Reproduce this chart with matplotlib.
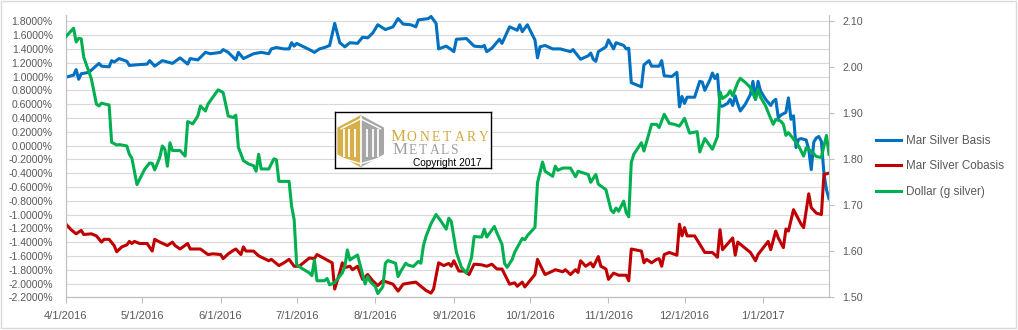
import numpy as np
import pandas as pd
import matplotlib
matplotlib.use("Agg")
import matplotlib.pyplot as plt
import matplotlib.dates as mdates
from matplotlib.patches import Polygon, Rectangle
from matplotlib.ticker import FuncFormatter
from matplotlib.lines import Line2D

# Mar silver basis (%)
basis = [
    ("2016-04-01", 0.99), ("2016-04-04", 1.02), ("2016-04-05", 1.10), ("2016-04-06", 0.96),
    ("2016-04-07", 1.04), ("2016-04-10", 1.06), ("2016-04-14", 1.19), ("2016-04-15", 1.15),
    ("2016-04-18", 1.14), ("2016-04-19", 1.23), ("2016-04-20", 1.21), ("2016-04-22", 1.26),
    ("2016-04-25", 1.22), ("2016-04-26", 1.16), ("2016-04-29", 1.17), ("2016-05-03", 1.18),
    ("2016-05-04", 1.23), ("2016-05-06", 1.15), ("2016-05-09", 1.23), ("2016-05-11", 1.21),
    ("2016-05-13", 1.19), ("2016-05-16", 1.27), ("2016-05-19", 1.18), ("2016-05-20", 1.26),
    ("2016-05-23", 1.24), ("2016-05-26", 1.35), ("2016-05-28", 1.33), ("2016-06-01", 1.35),
    ("2016-06-02", 1.39), ("2016-06-04", 1.35), ("2016-06-07", 1.24), ("2016-06-08", 1.35),
    ("2016-06-10", 1.26), ("2016-06-14", 1.33), ("2016-06-17", 1.35), ("2016-06-20", 1.33),
    ("2016-06-21", 1.40), ("2016-06-23", 1.42), ("2016-06-26", 1.40), ("2016-06-28", 1.40),
    ("2016-06-29", 1.49), ("2016-06-30", 1.44), ("2016-07-01", 1.48), ("2016-07-06", 1.39),
    ("2016-07-08", 1.35), ("2016-07-10", 1.40), ("2016-07-12", 1.42), ("2016-07-14", 1.45),
    ("2016-07-16", 1.77), ("2016-07-18", 1.49), ("2016-07-20", 1.43), ("2016-07-22", 1.49),
    ("2016-07-25", 1.48), ("2016-07-27", 1.57), ("2016-07-29", 1.56), ("2016-07-31", 1.63),
    ("2016-08-02", 1.75), ("2016-08-05", 1.68), ("2016-08-08", 1.72), ("2016-08-10", 1.84),
    ("2016-08-12", 1.76), ("2016-08-15", 1.75), ("2016-08-17", 1.72), ("2016-08-18", 1.82),
    ("2016-08-22", 1.84), ("2016-08-23", 1.87), ("2016-08-25", 1.77), ("2016-08-26", 1.40),
    ("2016-08-29", 1.44), ("2016-08-31", 1.39), ("2016-09-01", 1.36), ("2016-09-02", 1.54),
    ("2016-09-06", 1.55), ("2016-09-09", 1.44), ("2016-09-12", 1.43), ("2016-09-13", 1.45),
    ("2016-09-14", 1.36), ("2016-09-16", 1.41), ("2016-09-19", 1.54), ("2016-09-20", 1.48),
    ("2016-09-23", 1.72), ("2016-09-26", 1.67), ("2016-09-27", 1.75), ("2016-09-28", 1.65),
    ("2016-09-30", 1.75), ("2016-10-03", 1.53), ("2016-10-04", 1.27), ("2016-10-05", 1.43),
    ("2016-10-07", 1.45), ("2016-10-10", 1.40), ("2016-10-13", 1.40), ("2016-10-17", 1.36),
    ("2016-10-18", 1.39), ("2016-10-21", 1.25), ("2016-10-24", 1.30), ("2016-10-25", 1.34),
    ("2016-10-26", 1.25), ("2016-10-27", 1.22), ("2016-10-28", 1.36), ("2016-10-31", 1.43),
    ("2016-11-01", 1.53), ("2016-11-03", 1.40), ("2016-11-04", 1.49), ("2016-11-07", 1.45),
    ("2016-11-08", 1.40), ("2016-11-09", 1.41), ("2016-11-10", 0.91), ("2016-11-14", 0.85),
    ("2016-11-15", 1.17), ("2016-11-17", 1.23), ("2016-11-18", 1.15), ("2016-11-21", 1.15),
    ("2016-11-22", 1.23), ("2016-11-23", 1.01), ("2016-11-26", 1.00), ("2016-11-28", 1.06),
    ("2016-11-29", 0.56), ("2016-11-30", 0.71), ("2016-12-01", 0.61), ("2016-12-02", 0.70),
    ("2016-12-05", 0.70), ("2016-12-07", 0.93), ("2016-12-08", 0.92), ("2016-12-09", 0.80),
    ("2016-12-11", 0.95), ("2016-12-12", 1.05), ("2016-12-13", 0.97), ("2016-12-14", 1.03),
    ("2016-12-15", 0.57), ("2016-12-16", 0.57), ("2016-12-18", 0.61), ("2016-12-19", 0.67),
    ("2016-12-20", 0.58), ("2016-12-21", 0.72), ("2016-12-22", 0.60), ("2016-12-23", 0.50),
    ("2016-12-25", 0.60), ("2016-12-27", 0.74), ("2016-12-28", 0.93), ("2016-12-29", 0.67),
    ("2016-12-30", 0.93), ("2016-12-31", 0.79), ("2017-01-02", 0.67), ("2017-01-04", 0.58),
    ("2017-01-05", 0.64), ("2017-01-06", 0.67), ("2017-01-07", 0.40), ("2017-01-08", 0.44),
    ("2017-01-10", 0.48), ("2017-01-11", 0.69), ("2017-01-12", 0.38), ("2017-01-13", 0.43),
    ("2017-01-14", -0.03), ("2017-01-15", 0.09), ("2017-01-16", 0.10), ("2017-01-18", 0.08),
    ("2017-01-19", -0.06), ("2017-01-20", -0.35), ("2017-01-21", 0.05), ("2017-01-22", 0.11),
    ("2017-01-23", 0.13), ("2017-01-24", 0.06), ("2017-01-25", -0.40), ("2017-01-26", -0.64),
    ("2017-01-27", -0.77),
]

# Mar silver cobasis (%)
cobasis = [
    ("2016-04-01", -1.14), ("2016-04-03", -1.22), ("2016-04-05", -1.28), ("2016-04-07", -1.23),
    ("2016-04-08", -1.29), ("2016-04-11", -1.28), ("2016-04-13", -1.31), ("2016-04-15", -1.40),
    ("2016-04-16", -1.36), ("2016-04-18", -1.36), ("2016-04-20", -1.45), ("2016-04-21", -1.54),
    ("2016-04-23", -1.47), ("2016-04-25", -1.44), ("2016-04-26", -1.39), ("2016-04-27", -1.42),
    ("2016-04-28", -1.39), ("2016-04-30", -1.42), ("2016-05-03", -1.42), ("2016-05-05", -1.53),
    ("2016-05-06", -1.36), ("2016-05-08", -1.40), ("2016-05-11", -1.45), ("2016-05-13", -1.40),
    ("2016-05-14", -1.45), ("2016-05-16", -1.50), ("2016-05-19", -1.42), ("2016-05-20", -1.50),
    ("2016-05-24", -1.50), ("2016-05-27", -1.58), ("2016-05-29", -1.57), ("2016-06-01", -1.58),
    ("2016-06-02", -1.64), ("2016-06-04", -1.57), ("2016-06-06", -1.52), ("2016-06-07", -1.50),
    ("2016-06-09", -1.58), ("2016-06-10", -1.47), ("2016-06-11", -1.53), ("2016-06-14", -1.53),
    ("2016-06-16", -1.60), ("2016-06-20", -1.67), ("2016-06-21", -1.65), ("2016-06-24", -1.74),
    ("2016-06-26", -1.70), ("2016-06-28", -1.65), ("2016-06-30", -1.75), ("2016-07-02", -1.75),
    ("2016-07-06", -1.63), ("2016-07-08", -1.64), ("2016-07-09", -1.58), ("2016-07-13", -1.66),
    ("2016-07-15", -1.70), ("2016-07-16", -2.08), ("2016-07-18", -1.84), ("2016-07-19", -1.70),
    ("2016-07-20", -1.77), ("2016-07-22", -1.75), ("2016-07-23", -1.80), ("2016-07-25", -1.75),
    ("2016-07-27", -1.94), ("2016-07-29", -1.87), ("2016-07-31", -1.96), ("2016-08-02", -2.03),
    ("2016-08-04", -1.96), ("2016-08-08", -2.01), ("2016-08-10", -2.11), ("2016-08-12", -2.01),
    ("2016-08-15", -1.99), ("2016-08-17", -1.98), ("2016-08-19", -2.04), ("2016-08-21", -2.10),
    ("2016-08-23", -2.14), ("2016-08-24", -2.08), ("2016-08-26", -1.70), ("2016-08-28", -1.74),
    ("2016-08-30", -1.71), ("2016-08-31", -1.75), ("2016-09-01", -1.67), ("2016-09-03", -1.82),
    ("2016-09-05", -1.82), ("2016-09-07", -1.87), ("2016-09-09", -1.72), ("2016-09-12", -1.73),
    ("2016-09-14", -1.75), ("2016-09-16", -1.72), ("2016-09-18", -1.79), ("2016-09-20", -1.79),
    ("2016-09-23", -2.01), ("2016-09-25", -1.99), ("2016-09-26", -2.04), ("2016-09-28", -1.98),
    ("2016-09-29", -2.05), ("2016-10-01", -1.96), ("2016-10-03", -1.87), ("2016-10-04", -1.65),
    ("2016-10-06", -1.80), ("2016-10-07", -1.87), ("2016-10-10", -1.82), ("2016-10-11", -1.80),
    ("2016-10-14", -1.83), ("2016-10-15", -1.80), ("2016-10-17", -1.87), ("2016-10-19", -1.80),
    ("2016-10-20", -1.84), ("2016-10-21", -1.67), ("2016-10-23", -1.75), ("2016-10-25", -1.70),
    ("2016-10-26", -1.76), ("2016-10-28", -1.61), ("2016-10-29", -1.75), ("2016-10-31", -1.79),
    ("2016-11-01", -1.94), ("2016-11-03", -1.85), ("2016-11-05", -1.88), ("2016-11-08", -1.88),
    ("2016-11-09", -1.96), ("2016-11-10", -1.50), ("2016-11-14", -1.53), ("2016-11-15", -1.70),
    ("2016-11-16", -1.65), ("2016-11-18", -1.70), ("2016-11-20", -1.65), ("2016-11-21", -1.64),
    ("2016-11-22", -1.75), ("2016-11-23", -1.58), ("2016-11-25", -1.55), ("2016-11-28", -1.59),
    ("2016-11-29", -1.14), ("2016-11-30", -1.31), ("2016-12-01", -1.19), ("2016-12-02", -1.31),
    ("2016-12-05", -1.31), ("2016-12-09", -1.55), ("2016-12-12", -1.55), ("2016-12-14", -1.62),
    ("2016-12-15", -1.22), ("2016-12-16", -1.51), ("2016-12-20", -1.34), ("2016-12-21", -1.59),
    ("2016-12-22", -1.40), ("2016-12-27", -1.55), ("2016-12-29", -1.67), ("2016-12-30", -1.58),
    ("2017-01-03", -1.39), ("2017-01-04", -1.51), ("2017-01-06", -1.24), ("2017-01-07", -1.34),
    ("2017-01-09", -1.48), ("2017-01-10", -1.21), ("2017-01-11", -1.24), ("2017-01-13", -0.93),
    ("2017-01-16", -1.14), ("2017-01-17", -1.19), ("2017-01-19", -0.70), ("2017-01-20", -0.90),
    ("2017-01-22", -0.98), ("2017-01-24", -1.00), ("2017-01-25", -0.42), ("2017-01-27", -0.40),
]

# Dollar priced in grams of silver (right axis)
dollar_g = [
    ("2016-04-01", 2.067), ("2016-04-04", 2.085), ("2016-04-05", 2.055), ("2016-04-06", 2.063),
    ("2016-04-07", 2.062), ("2016-04-08", 2.022), ("2016-04-11", 1.975), ("2016-04-13", 1.920),
    ("2016-04-14", 1.916), ("2016-04-15", 1.922), ("2016-04-18", 1.918), ("2016-04-19", 1.837),
    ("2016-04-21", 1.831), ("2016-04-22", 1.832), ("2016-04-25", 1.829), ("2016-04-26", 1.811),
    ("2016-04-27", 1.802), ("2016-04-29", 1.745), ("2016-04-30", 1.756), ("2016-05-02", 1.778),
    ("2016-05-04", 1.792), ("2016-05-05", 1.791), ("2016-05-06", 1.777), ("2016-05-08", 1.804),
    ("2016-05-09", 1.829), ("2016-05-10", 1.822), ("2016-05-11", 1.785), ("2016-05-12", 1.836),
    ("2016-05-13", 1.819), ("2016-05-16", 1.819), ("2016-05-18", 1.807), ("2016-05-19", 1.882),
    ("2016-05-21", 1.877), ("2016-05-23", 1.894), ("2016-05-24", 1.916), ("2016-05-26", 1.905),
    ("2016-05-27", 1.920), ("2016-05-31", 1.951), ("2016-06-02", 1.945), ("2016-06-04", 1.894),
    ("2016-06-06", 1.891), ("2016-06-07", 1.896), ("2016-06-08", 1.826), ("2016-06-10", 1.797),
    ("2016-06-12", 1.790), ("2016-06-14", 1.786), ("2016-06-15", 1.774), ("2016-06-16", 1.811),
    ("2016-06-17", 1.779), ("2016-06-20", 1.779), ("2016-06-22", 1.801), ("2016-06-23", 1.799),
    ("2016-06-24", 1.752), ("2016-06-28", 1.752), ("2016-06-29", 1.698), ("2016-06-30", 1.669),
    ("2016-07-01", 1.571), ("2016-07-03", 1.563), ("2016-07-06", 1.553), ("2016-07-07", 1.547),
    ("2016-07-08", 1.581), ("2016-07-09", 1.536), ("2016-07-12", 1.536), ("2016-07-13", 1.541),
    ("2016-07-14", 1.527), ("2016-07-16", 1.532), ("2016-07-19", 1.553), ("2016-07-20", 1.567),
    ("2016-07-21", 1.603), ("2016-07-22", 1.581), ("2016-07-23", 1.585), ("2016-07-25", 1.592),
    ("2016-07-28", 1.529), ("2016-07-29", 1.545), ("2016-07-30", 1.534), ("2016-08-01", 1.524),
    ("2016-08-02", 1.508), ("2016-08-04", 1.523), ("2016-08-05", 1.574), ("2016-08-06", 1.580),
    ("2016-08-09", 1.574), ("2016-08-10", 1.545), ("2016-08-11", 1.556), ("2016-08-13", 1.574),
    ("2016-08-14", 1.570), ("2016-08-16", 1.567), ("2016-08-18", 1.578), ("2016-08-19", 1.574),
    ("2016-08-20", 1.612), ("2016-08-21", 1.632), ("2016-08-23", 1.660), ("2016-08-25", 1.680),
    ("2016-08-27", 1.665), ("2016-08-29", 1.648), ("2016-08-30", 1.672), ("2016-08-31", 1.665),
    ("2016-09-02", 1.598), ("2016-09-04", 1.565), ("2016-09-06", 1.553), ("2016-09-08", 1.587),
    ("2016-09-09", 1.632), ("2016-09-12", 1.631), ("2016-09-13", 1.648), ("2016-09-14", 1.631),
    ("2016-09-17", 1.654), ("2016-09-18", 1.640), ("2016-09-20", 1.615), ("2016-09-21", 1.574),
    ("2016-09-22", 1.565), ("2016-09-24", 1.582), ("2016-09-25", 1.598), ("2016-09-27", 1.618),
    ("2016-09-28", 1.628), ("2016-09-29", 1.625), ("2016-09-30", 1.634), ("2016-10-03", 1.652),
    ("2016-10-04", 1.749), ("2016-10-06", 1.794), ("2016-10-07", 1.774), ("2016-10-10", 1.763),
    ("2016-10-11", 1.785), ("2016-10-12", 1.776), ("2016-10-14", 1.781), ("2016-10-17", 1.781),
    ("2016-10-19", 1.762), ("2016-10-20", 1.774), ("2016-10-24", 1.767), ("2016-10-25", 1.750),
    ("2016-10-27", 1.767), ("2016-10-28", 1.746), ("2016-10-31", 1.734), ("2016-11-02", 1.690),
    ("2016-11-03", 1.684), ("2016-11-04", 1.694), ("2016-11-05", 1.687), ("2016-11-07", 1.709),
    ("2016-11-08", 1.684), ("2016-11-09", 1.675), ("2016-11-10", 1.793), ("2016-11-11", 1.811),
    ("2016-11-14", 1.836), ("2016-11-15", 1.818), ("2016-11-18", 1.876), ("2016-11-20", 1.876),
    ("2016-11-21", 1.869), ("2016-11-23", 1.898), ("2016-11-25", 1.878), ("2016-11-27", 1.876),
    ("2016-11-29", 1.872), ("2016-12-01", 1.889), ("2016-12-03", 1.857), ("2016-12-06", 1.860),
    ("2016-12-07", 1.816), ("2016-12-09", 1.845), ("2016-12-12", 1.822), ("2016-12-14", 1.849),
    ("2016-12-15", 1.946), ("2016-12-16", 1.932), ("2016-12-18", 1.940), ("2016-12-19", 1.949),
    ("2016-12-20", 1.938), ("2016-12-22", 1.967), ("2016-12-23", 1.976), ("2016-12-25", 1.967),
    ("2016-12-27", 1.956), ("2016-12-29", 1.930), ("2016-12-30", 1.952), ("2016-12-31", 1.935),
    ("2017-01-02", 1.916), ("2017-01-03", 1.902), ("2017-01-05", 1.876), ("2017-01-06", 1.887),
    ("2017-01-08", 1.883), ("2017-01-09", 1.876), ("2017-01-10", 1.852), ("2017-01-11", 1.858),
    ("2017-01-13", 1.844), ("2017-01-15", 1.829), ("2017-01-17", 1.807), ("2017-01-18", 1.825),
    ("2017-01-20", 1.818), ("2017-01-22", 1.806), ("2017-01-24", 1.804), ("2017-01-25", 1.829),
    ("2017-01-26", 1.852), ("2017-01-27", 1.811),
]

labels = ["Mar Silver Basis", "Mar Silver Cobasis", "Dollar (g silver)"]
colors = ["#0070C0", "#C00000", "#00B050"]


def split(pairs):
    d, v = zip(*pairs)
    return pd.to_datetime(list(d)), np.array(v)


bx, by = split(basis)
cx, cy = split(cobasis)
gx, gy = split(dollar_g)

W, H = 1018, 330
fig = plt.figure(figsize=(W / 100, H / 100), dpi=100)
plt.rcParams["font.family"] = ["Liberation Sans", "DejaVu Sans"]

# plot area in pixels: x 66..829, y 15..297
ax = fig.add_axes([66 / W, 1 - 297.3 / H, (829 - 66) / W, (297.3 - 15) / H])
ax2 = ax.twinx()

lw = 2.2
ax.plot(bx, by, color=colors[0], lw=lw, solid_joinstyle="round", zorder=3)
ax.plot(cx, cy, color=colors[1], lw=lw, solid_joinstyle="round", zorder=3)
ax2.plot(gx, gy, color=colors[2], lw=lw, solid_joinstyle="round", zorder=3)

ax.set_xlim(bx[0], bx[-1])
ax.set_ylim(-2.2, 1.8 + 6.3 * 4.0 / 276)
ax.set_yticks(np.round(np.arange(-2.2, 1.81, 0.2), 1))
ax.yaxis.set_major_formatter(FuncFormatter(lambda v, p: f"{v:.4f}%"))
ax2.set_ylim(1.5, 2.1 + 6.3 * 0.6 / 276)
ax2.set_yticks(np.round(np.arange(1.5, 2.11, 0.1), 1))
ax2.yaxis.set_major_formatter(FuncFormatter(lambda v, p: f"{v:.2f}"))

ax.xaxis.set_major_locator(mdates.MonthLocator())
ax.xaxis.set_major_formatter(FuncFormatter(
    lambda v, p: (lambda d: f"{d.month}/{d.day}/{d.year}")(mdates.num2date(v))))

ax.grid(axis="y", color="#D9D9D9", lw=0.8)
ax.set_axisbelow(True)
for a in (ax, ax2):
    a.spines["top"].set_visible(False)
    for s in ("left", "right", "bottom"):
        a.spines[s].set_color("#BFBFBF")
        a.spines[s].set_linewidth(0.8)
ax.spines["right"].set_visible(False)

ax.tick_params(axis="y", length=0, pad=9.5, labelsize=7.5, labelcolor="#595959")
ax.tick_params(axis="x", length=4, width=0.8, color="#BFBFBF", pad=6, labelsize=8.0,
               labelcolor="#595959")
ax2.tick_params(axis="y", length=3.5, width=0.8, color="#BFBFBF", pad=6, labelsize=7.7,
                labelcolor="#595959")

# legend
handles = [Line2D([], [], color=c, lw=lw) for c in colors]
fig.legend(handles, labels, loc="center left", bbox_to_anchor=(865 / W, 0.4955),
           frameon=False, fontsize=8.4, handlelength=2.15, handletextpad=0.45,
           labelspacing=1.15, labelcolor="#595959")

# logo box
lax = fig.add_axes([335 / W, 1 - 168.3 / H, 156 / W, 56 / H], zorder=5)
lax.set_xlim(0, 156)
lax.set_ylim(56, 0)
lax.set_xticks([])
lax.set_yticks([])
lax.set_facecolor("white")
for s in lax.spines.values():
    s.set_color("black")
    s.set_linewidth(1.0)

gold, grey = "#D6AF48", "#A6A6A6"
cxh, top, bot, sh1, sh2, xl, xr = 25.7, 2.7, 55.0, 15.3, 42.0, 2.3, 49.0
lax.add_patch(Polygon([(cxh, top), (xl, sh1), (xl, sh2), (cxh, bot)], closed=True,
                      fc=gold, ec="none"))
lax.add_patch(Polygon([(cxh, top), (xr, sh1), (xr, sh2), (cxh, bot)], closed=True,
                      fc=grey, ec="none"))
for xs in (8.5, 14.0, 19.5, 32.0, 37.5, 43.0):
    lax.plot([xs, xs], [17, 45], color="white", lw=1.3, solid_capstyle="butt")
lax.plot([cxh, cxh], [top + 2, bot - 2], color="white", lw=1.2)
lax.plot([6, cxh, 45.5], [16.5, 6.5, 16.5], color="white", lw=1.0)
lax.plot([6, cxh, 45.5], [45.5, 51.5, 45.5], color="white", lw=1.0)

serif = ["Liberation Serif", "DejaVu Serif"]
for word, xs, base, col in (("MONETARY", [63.3, 76.7, 89.3, 101, 112.3, 124.3, 136.7, 148.3], 29.0, "#D4AA40"),
                            ("METALS", [64.7, 77.3, 88.3, 100, 109.8, 119], 41.6, "#A0A0A0")):
    for i, (ch, x) in enumerate(zip(word, xs)):
        lax.text(x, base, ch, ha="center", va="baseline", color=col, family=serif,
                 fontsize=12.2 if i == 0 else 9.8)
lax.text(78.3, 54.0, "Copyright 2017", ha="left", va="baseline", color="black",
         fontsize=7.3)

# chart area border
fig.patches.append(Rectangle((1 / W, 1 - 328.3 / H), 1014.7 / W, 327.3 / H,
                             transform=fig.transFigure, fill=False, ec="#D9D9D9", lw=1))

fig.savefig("out.png", dpi=100)
